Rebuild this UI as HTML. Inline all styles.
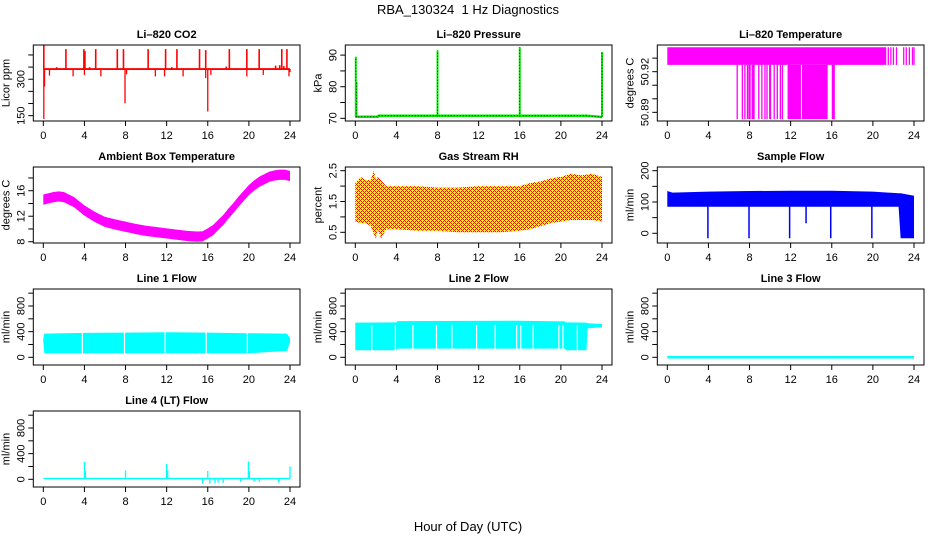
<!DOCTYPE html>
<html><head><meta charset="utf-8">
<style>
html,body{margin:0;padding:0;background:#fff;}
svg{display:block;font-family:"Liberation Sans",Arial,sans-serif;}
</style></head>
<body>
<svg id="chart" width="936" height="540" viewBox="0 0 936 540">
<defs>
<pattern id="rhpat" width="4" height="4" patternUnits="userSpaceOnUse">
<rect width="4" height="4" fill="#ffff00"/>
<rect x="0" y="0" width="1" height="1" fill="#ff0000"/>
<rect x="1" y="1" width="1" height="1" fill="#ff0000"/>
<rect x="2" y="2" width="1" height="1" fill="#ff0000"/>
<rect x="3" y="3" width="1" height="1" fill="#ff0000"/>
<rect x="3" y="1" width="1" height="1" fill="#ff0000"/>
<rect x="1" y="3" width="1" height="1" fill="#ff0000"/>
</pattern>
</defs>
<text x="468" y="14" text-anchor="middle" font-size="13">RBA_130324&#160; 1 Hz Diagnostics</text>
<text x="468" y="531" text-anchor="middle" font-size="13">Hour of Day (UTC)</text>
</svg>
<script>
// ---- data arrays ----
const xTicks = [0,4,8,12,16,20,24];
// CO2
const co2Base = 342;
const co2UpT = [2.2,3.95,4.05,5.1,7.2,7.8,10.2,11.9,13.0,15.2,15.8,18.1,19.8,21.0,23.2,23.7,1.3,4.5,12.5,17.8,22.6,23.0,23.4,0.05];
const co2UpV = [424,424,416,424,424,424,424,424,424,424,420,424,424,424,424,424,350,350,350,352,356,358,354,440];
const co2DnT = [0.05,0.12,7.95,16.0,0.6,2.9,4.0,5.6,8.1,10.9,11.8,13.6,15.8,16.3,19.8,21.4,23.9,24.0];
const co2DnV = [136,270,201,167,315,312,318,312,320,312,312,312,305,318,312,318,312,330];
// Pressure
const presT = [0,2.2,2.25,22.5,24];
const presV = [70.5,70.5,70.8,70.8,70.4];
const presSpkT = [0.05,0.12,8.0,16.0,24.0];
const presSpkV = [89.5,81.5,91.5,92.5,91];
// Temperature
const tempHi = 50.938, tempMid = 50.925, tempLo = 50.885;
const tempBandStart = [0], tempBandEnd = [21.3];
const tempHiLines = [21.5,21.75,22.0,22.3,23.0,23.25,23.55,23.85,24.0];
const tempLoBlocks = [[8.2,8.5],[9.9,10.1],[11.7,13.0],[13.1,15.6],[16.0,16.3]];
const tempLoLines = [6.8,7.3,7.55,7.8,7.95,8.05,8.9,9.2,9.5,9.7,10.4,10.7,11.0,11.2];
// Ambient box temperature
const ambT = [0,0.5,1,1.5,2,3,4,5,6,7,8,9,10,11,12,13,14,15,15.5,16,16.5,17,17.5,18,18.5,19,19.5,20,20.5,21,21.5,22,22.5,23,23.5,24];
const ambV = [14.6,14.8,15.0,15.1,15.0,14.2,12.9,11.9,11.1,10.7,10.35,10.0,9.7,9.5,9.3,9.1,8.9,8.8,8.85,9.3,9.8,10.6,11.4,12.4,13.3,14.3,15.2,16.1,16.8,17.4,17.8,18.2,18.4,18.5,18.5,18.3];
const ambHalf = 0.8;
// Gas stream RH
const rhT = [0,0.5,1,1.5,1.8,2.0,2.2,2.5,3,4,6,8,10,12,14,16,17,18,19,20,21,22,23,24];
const rhHi = [2.1,2.3,2.2,2.2,2.5,2.2,2.3,2.2,2.0,2.0,2.0,1.95,1.95,2.0,2.0,2.0,2.1,2.15,2.25,2.3,2.4,2.35,2.4,2.3];
const rhLo = [0.85,0.8,0.8,0.7,0.45,0.3,0.6,0.3,0.6,0.6,0.55,0.55,0.5,0.5,0.5,0.55,0.6,0.7,0.8,0.85,0.9,0.9,0.9,0.85];
// Sample flow
const sfT = [0,0.5,4,8,12,16,20,22.5,22.7,24];
const sfHi = [135,130,133,135,136,136,133,128,128,120];
const sfLo = [85,85,85,85,85,85,85,85,-16,-16];
const sfDipT = [3.95,7.95,11.9,13.5,15.9,19.9];
const sfDipV = [-16,-16,-16,32,-16,-16];
// Line 1 flow
const l1T = [0,0.1,4,8,12,16,20,23.7,24];
const l1Hi = [300,370,380,385,390,385,375,370,300];
const l1Lo = [240,62,62,62,62,62,62,100,230];
const l1Gaps = [3.8,7.9,11.85,15.85,19.85];
// Line 2 flow
const l2T = [0,4,4.1,15.7,20.4,20.5,22.5,22.6,24];
const l2Hi = [540,545,565,570,560,545,540,530,520];
const l2Lo = [110,110,135,135,135,110,110,450,470];
const l2Gaps = [1.6,3.9,5.6,7.9,9.4,11.8,13.6,15.7,16.1,17.3,19.8,20.2,21.6];
// Line 3 flow
const l3T = [0,24];
const l3V = [0,0];
const l3SpkT = [16.0,17.5];
const l3SpkV = [-25,-20];
// Line 4 flow
const l4Base = 10;
const l4SpkT = [4.0,4.1,8.0,12.0,12.1,15.5,16.0,16.2,16.7,17.0,17.5,19.2,19.95,20.05,20.5,21.0,22.9,24.0];
const l4SpkV = [270,130,140,240,140,-70,130,-70,-60,-50,-60,-40,280,130,-40,-40,-50,200];

// ---- layout ----
const NS = 'http://www.w3.org/2000/svg';
const svg = document.getElementById('chart');
function el(tag, attrs, parent){
  const e = document.createElementNS(NS, tag);
  for (const k in attrs) e.setAttribute(k, attrs[k]);
  (parent||svg).appendChild(e);
  return e;
}
function makePanel(col,row,dom,ticks,labels,title,ylab,name){
  const x0 = 33.3 + col*312, x1 = 300 + col*312;
  const y0 = 45 + row*122, y1 = 121 + row*122;
  const g = el('g',{});
  
  
  const sx = t => x0 + 10 + t*(246.7/24);
  const sy = v => y0 + (dom[1]-v)/(dom[1]-dom[0])*(y1-y0);
  const plot = el('g',{},g);
  
  
  const clip = el('clipPath',{id:'clip'+name},g);
  el('rect',{x:x0,y:y0,width:x1-x0,height:y1-y0},clip);
  plot.setAttribute('clip-path','url(#clip'+name+')');
  const frame = el('g',{},g);
  const box = el('rect',{x:x0,y:y0,width:x1-x0,height:y1-y0,fill:'none',stroke:'#000','stroke-width':1},frame);
  
  
  const xa = el('g',{},frame);
  
  
  el('line',{x1:sx(0),x2:sx(24),y1:y1,y2:y1,stroke:'#000'},xa);
  xTicks.forEach(t=>{
    el('line',{x1:sx(t),x2:sx(t),y1:y1,y2:y1+5,stroke:'#000'},xa);
    const tx = el('text',{x:sx(t),y:y1+18,'text-anchor':'middle','font-size':11},xa);
    tx.textContent = t;
  });
  const ya = el('g',{},frame);
  
  
  ticks.forEach(v=>{
    el('line',{x1:x0-5,x2:x0,y1:sy(v),y2:sy(v),stroke:'#000'},ya);
  });
  labels.forEach(v=>{
    const tx = el('text',{x:0,y:0,'text-anchor':'middle','font-size':11,transform:`translate(${x0-9},${sy(v)}) rotate(-90)`},ya);
    tx.textContent = v;
  });
  const yl = el('text',{x:0,y:0,'text-anchor':'middle','font-size':11,transform:`translate(${x0-24},${(y0+y1)/2}) rotate(-90)`},g);
  
  
  yl.textContent = ylab;
  const tt = el('text',{x:(x0+x1)/2,y:y0-7,'text-anchor':'middle','font-size':11,'font-weight':'bold'},g);
  
  
  tt.textContent = title;
  return {sx,sy,plot};
}
function band(p,T,hi,lo,fill,name){
  let d='M'+T.map((t,i)=>p.sx(t)+','+p.sy(hi[i])).join('L');
  for(let i=T.length-1;i>=0;i--) d+='L'+p.sx(T[i])+','+p.sy(lo[i]);
  const e = el('path',{d:d+'Z',fill:fill},p.plot);
  
  
}
function vline(p,t,a,b,color,w,name){
  const e = el('line',{x1:p.sx(t),x2:p.sx(t),y1:p.sy(a),y2:p.sy(b),stroke:color,'stroke-width':w},p.plot);
  
  
}

// CO2
let p = makePanel(0,0,[128,441],[150,200,250,300,350,400],[150,300],'Li\u2013820 CO2','Licor ppm','co2');
band(p,[0,24],[co2Base+4,co2Base+4],[co2Base-4,co2Base-4],'#ff0000','co2-baseline');
co2UpT.forEach((t,i)=>vline(p,t,co2Base,co2UpV[i],'#ff0000',1.6,'co2-spike'));
co2DnT.forEach((t,i)=>vline(p,t,co2Base,co2DnV[i],'#ff0000',1.3,'co2-dip'));

// Pressure
p = makePanel(1,0,[69.15,93.2],[70,75,80,85,90],[70,80,90],'Li\u2013820 Pressure','kPa','pressure');
const pl = el('polyline',{points:presT.map((t,i)=>p.sx(t)+','+p.sy(presV[i])).join(' '),fill:'none',stroke:'#00ee00','stroke-width':2.5},p.plot);


const pl2 = el('polyline',{points:presT.map((t,i)=>p.sx(t)+','+p.sy(presV[i])).join(' '),fill:'none',stroke:'#000','stroke-width':0.8,'stroke-dasharray':'1 2'},p.plot);


presSpkT.forEach((t,i)=>{
  vline(p,t,presV[0],presSpkV[i],'#00ee00',2,'pressure-spike');
  const e = el('line',{x1:p.sx(t),x2:p.sx(t),y1:p.sy(presV[0]),y2:p.sy(presSpkV[i]),stroke:'#000','stroke-width':0.8,'stroke-dasharray':'1 2'},p.plot);
  
  
});

// Temperature
p = makePanel(2,0,[50.8836,50.9397],[50.89,50.9,50.91,50.92,50.93],[50.89,50.92],'Li\u2013820 Temperature','degrees C','temperature');
tempBandStart.forEach((s,i)=>band(p,[s,tempBandEnd[i]],[tempHi,tempHi],[tempMid,tempMid],'#ff00ff','temperature-band'));
tempHiLines.forEach(t=>vline(p,t,tempHi,tempMid,'#ff00ff',1.3,'temperature-line'));
tempLoBlocks.forEach(b=>band(p,b,[tempMid,tempMid],[tempLo,tempLo],'#ff00ff','temperature-low-block'));
tempLoLines.forEach(t=>vline(p,t,tempMid,tempLo,'#ff00ff',1.3,'temperature-low-line'));

// Ambient
p = makePanel(0,1,[7.8,19.72],[8,10,12,14,16,18],[8,12,16],'Ambient Box Temperature','degrees C','ambient');
band(p,ambT,ambV.map(v=>v+ambHalf),ambV.map(v=>v-ambHalf),'#ff00ff','ambient-band');

// RH
p = makePanel(1,1,[0.153,2.62],[0.5,1,1.5,2,2.5],[0.5,1.5,2.5],'Gas Stream RH','percent','rh');
band(p,rhT,rhHi,rhLo,'url(#rhpat)','rh-band');

// Sample flow
p = makePanel(2,1,[-31,211.8],[0,50,100,150,200],[0,100,200],'Sample Flow','ml/min','sample-flow');
band(p,sfT,sfHi,sfLo,'#0000ff','sample-flow-band');
sfDipT.forEach((t,i)=>vline(p,t,90,sfDipV[i],'#0000ff',1.5,'sample-flow-dip'));

const lineDom = [-120,1065], lineTicks=[0,200,400,600,800,1000], lineLabels=[0,400,800];
// Line 1
p = makePanel(0,2,lineDom,lineTicks,lineLabels,'Line 1 Flow','ml/min','line1');
band(p,l1T,l1Hi,l1Lo,'#00ffff','line1-band');
l1Gaps.forEach(t=>vline(p,t,l1Hi[1]+20,l1Lo[1]-5,'#ffffff',1.2,'line1-gap'));
// Line 2
p = makePanel(1,2,lineDom,lineTicks,lineLabels,'Line 2 Flow','ml/min','line2');
band(p,l2T,l2Hi,l2Lo,'#00ffff','line2-band');
l2Gaps.forEach(t=>vline(p,t,500,100,'#ffffff',1.2,'line2-gap'));
// Line 3
p = makePanel(2,2,lineDom,lineTicks,lineLabels,'Line 3 Flow','ml/min','line3');
const l3 = el('polyline',{points:l3T.map((t,i)=>p.sx(t)+','+p.sy(l3V[i])).join(' '),fill:'none',stroke:'#00ffff','stroke-width':2.5},p.plot);


l3SpkT.forEach((t,i)=>vline(p,t,0,l3SpkV[i],'#00ffff',1,'line3-spike'));
// Line 4
p = makePanel(0,3,lineDom,lineTicks,lineLabels,'Line 4 (LT) Flow','ml/min','line4');
band(p,[0,24],[l4Base+12,l4Base+12],[l4Base-10,l4Base-10],'#00ffff','line4-baseline');
l4SpkT.forEach((t,i)=>vline(p,t,l4Base,l4SpkV[i],'#00ffff',1.3,'line4-spike'));
</script>
</body></html>
